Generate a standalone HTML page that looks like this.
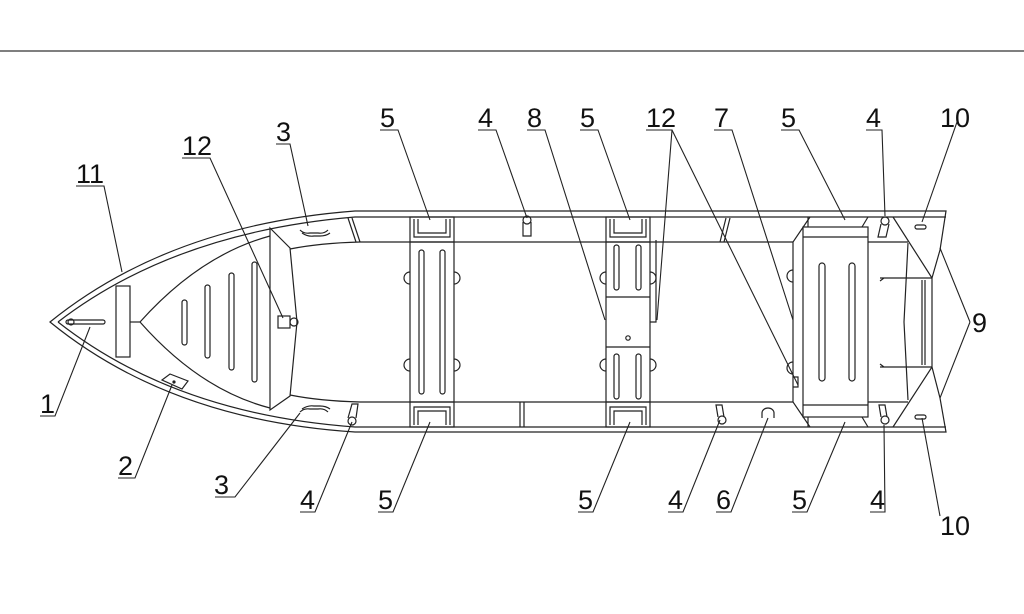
<!DOCTYPE html>
<html><head><meta charset="utf-8"><style>
html,body{margin:0;padding:0;background:#fff}
svg{display:block}
text{font-family:"Liberation Sans Narrow","Liberation Sans",sans-serif;font-size:27px;fill:#111}
</style></head><body>
<svg width="1024" height="614" viewBox="0 0 1024 614" xmlns="http://www.w3.org/2000/svg">
<line x1="0" y1="51" x2="1024" y2="51" stroke="#333" stroke-width="1.3"/>
<g fill="none" stroke="#222" stroke-width="1.2">
<path d="M50,322 Q170,225 355,211 L946,211 L940,250 L932,278 L932,367 L940,398 L946,432 L355,432 Q170,420 50,322 Z"/>
<path d="M58,322 Q175,232 355,217 L893,217 M58,322 Q175,414 355,427 L893,427"/>
<line x1="893" y1="217" x2="946" y2="217"/><line x1="893" y1="427" x2="946" y2="427"/>
<path d="M290,249 Q320,243 360,242 L793,242"/>
<path d="M290,395 Q320,401 360,402 L793,402"/>
<line x1="868" y1="242" x2="908" y2="242"/><line x1="868" y1="402" x2="908" y2="402"/>
<path d="M270,228 L290,248 L297,322 L290,396 L270,410 Z"/>
<path d="M140,322 Q200,255 270,236 M140,322 Q200,390 270,408"/>
<line x1="130" y1="322" x2="140" y2="322"/>
<rect x="116" y="286" width="14" height="71"/>
<rect x="66" y="320" width="39" height="4" rx="2"/>
<circle cx="71" cy="322" r="3"/>
<rect x="182" y="300" width="5" height="45" rx="2.5"/>
<rect x="205" y="285" width="5" height="73" rx="2.5"/>
<rect x="229" y="273" width="5" height="97" rx="2.5"/>
<rect x="252" y="262" width="5" height="120" rx="2.5"/>
<path d="M300,230 q4,4 10,3 l8,0 q6,1 10,-3 M302,233 q6,4 12,3 l6,0 q6,0 10,-3"/>
<path d="M300,412 q4,-4 10,-3 l8,0 q6,-1 10,3 M302,409 q6,-4 12,-3 l6,0 q6,0 10,3"/>
<rect x="278" y="316" width="12" height="12"/><circle cx="294" cy="322" r="4"/>
<path d="M162,380 L170,374 L188,381 L182,389 Z"/><circle cx="174" cy="382" r="1" fill="#222"/>
<path d="M348,218 l8,24 M352,218 l8,24 M520,402 v25 M524,402 v25 M730,218 l-6,24 M726,218 l-6,24"/>
<rect x="410" y="217" width="44" height="210"/>
<path d="M410,242 H454 M410,402 H454 M414,219 v18 h36 v-18 M418,219 v14 h28 v-14 M414,425 v-18 h36 v18 M418,425 v-14 h28 v14"/>
<rect x="419" y="250" width="5" height="144" rx="2.5"/><rect x="440" y="250" width="5" height="144" rx="2.5"/>
<path d="M410,272 a5,5 0 0 0 0,12 M410,359 a5,5 0 0 0 0,12 M454,272 a5,5 0 0 1 0,12 M454,359 a5,5 0 0 1 0,12"/>
<rect x="606" y="217" width="44" height="210"/>
<path d="M606,242 H650 M606,402 H650 M606,297 H650 M606,347 H650 M610,219 v18 h36 v-18 M614,219 v14 h28 v-14 M610,425 v-18 h36 v18 M614,425 v-14 h28 v14"/>
<rect x="614" y="245" width="5" height="45" rx="2.5"/><rect x="636" y="245" width="5" height="45" rx="2.5"/>
<rect x="614" y="354" width="5" height="45" rx="2.5"/><rect x="636" y="354" width="5" height="45" rx="2.5"/>
<circle cx="628" cy="338" r="2.2"/>
<path d="M606,272 a5,5 0 0 0 0,12 M606,359 a5,5 0 0 0 0,12 M650,272 a5,5 0 0 1 0,12 M650,359 a5,5 0 0 1 0,12"/>
<path d="M650,322 h6 v-82"/>
<path d="M810,217 L793,242 L793,402 L810,427"/>
<rect x="803" y="227" width="65" height="190"/>
<path d="M803,237 H868 M803,405 H868 M808,217 v10 M868,217 l-6,10 M868,427 l-6,-10 M808,427 v-10"/>
<rect x="819" y="263" width="6" height="118" rx="3"/><rect x="849" y="263" width="6" height="118" rx="3"/>
<path d="M793,270 a5,5 0 0 0 0,12 M793,362 a5,5 0 0 0 0,12 M793,377 h5 v10 h-5"/>
<path d="M893,217 L932,278 M893,427 L932,367 M908,243 L904,322 L908,400"/>
<path d="M880,278 H932 M880,281 l4,-3 M880,367 H932 M880,364 l4,3 M922,280 v85 M925,280 v85"/>
<rect x="915" y="225" width="11" height="4" rx="2"/><rect x="915" y="415" width="11" height="4" rx="2"/>
<circle cx="527" cy="220" r="4"/><path d="M523,222 v14 h8 v-14"/>
<circle cx="885" cy="221" r="4"/><path d="M881,224 l-3,13 h8 l3,-13"/>
<circle cx="352" cy="421" r="4"/><path d="M348,418 l4,-14 h6 l-2,14"/>
<circle cx="722" cy="420" r="4"/><path d="M718,417 l-2,-12 h6 l2,12"/>
<circle cx="885" cy="420" r="4"/><path d="M881,417 l-2,-12 h6 l2,12"/>
<path d="M762,418 v-5 a6,5 0 0 1 12,0 v5"/>
</g>
<g fill="none" stroke="#222" stroke-width="1.1">
<path d="M40,416 H55 L90,327"/>
<path d="M118,478 H135 L172,385"/>
<path d="M215,497 H235 L300,413"/>
<path d="M276,144 H290 L308,226"/>
<path d="M300,512 H315 L352,422"/>
<path d="M378,512 H393 L430,422"/>
<path d="M578,512 H593 L630,422"/>
<path d="M668,512 H683 L720,420"/>
<path d="M716,512 H731 L768,418"/>
<path d="M792,512 H807 L845,422"/>
<path d="M870,512 H885 L884,425"/>
<path d="M380,130 H398 L430,220"/>
<path d="M580,130 H598 L630,220"/>
<path d="M781,130 H799 L845,220"/>
<path d="M478,130 H496 L527,218"/>
<path d="M527,130 H545 L605,320"/>
<path d="M866,130 H882 L885,216"/>
<path d="M714,130 H732 L793,320"/>
<path d="M646,130 H672 L657,320 M672,130 L798,385"/>
<path d="M182,158 H210 L283,318"/>
<path d="M76,186 H104 L122,272"/>
<path d="M957,122 L922,222"/>
<path d="M940,516 L922,418"/>
<path d="M970,322 L940,248 M970,322 L940,398"/>
</g>
<g>
<text x="40" y="413">1</text>
<text x="118" y="475">2</text>
<text x="214" y="494">3</text>
<text x="276" y="141">3</text>
<text x="300" y="509">4</text>
<text x="378" y="509">5</text>
<text x="578" y="509">5</text>
<text x="668" y="509">4</text>
<text x="716" y="509">6</text>
<text x="792" y="509">5</text>
<text x="870" y="509">4</text>
<text x="380" y="127">5</text>
<text x="478" y="127">4</text>
<text x="527" y="127">8</text>
<text x="580" y="127">5</text>
<text x="646" y="127">12</text>
<text x="714" y="127">7</text>
<text x="781" y="127">5</text>
<text x="866" y="127">4</text>
<text x="940" y="127">10</text>
<text x="182" y="155">12</text>
<text x="76" y="183">11</text>
<text x="972" y="332">9</text>
<text x="940" y="535">10</text>
</g>
</svg>
</body></html>
